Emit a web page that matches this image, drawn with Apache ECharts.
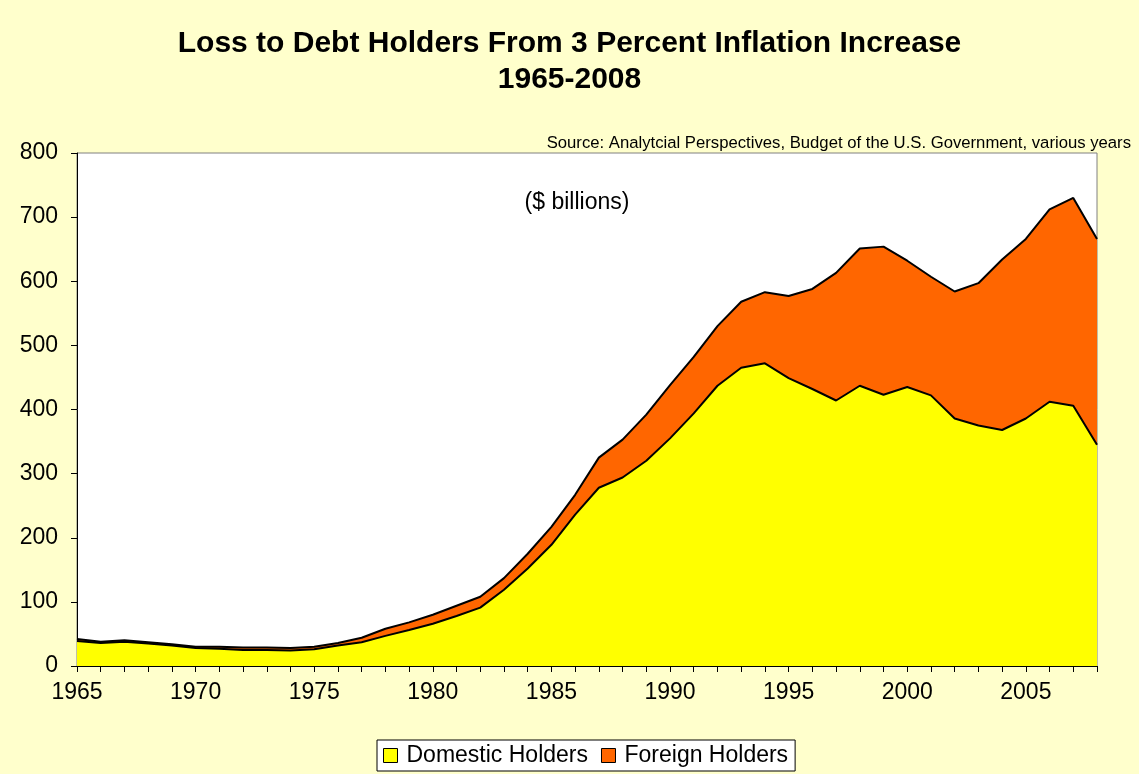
<!DOCTYPE html>
<html>
<head>
<meta charset="utf-8">
<script src="https://cdn.jsdelivr.net/npm/echarts@6/dist/echarts.min.js"></script>
<style>
html,body{margin:0;padding:0;background:#FFFFCC;}
#chart{width:1139px;height:774px;}
</style>
</head>
<body>
<div id="chart"></div>
<script>
const years = [];
for (let y = 1965; y <= 2008; y++) years.push(String(y));

const domestic = [39,36,38,35,32,28,27,25,25,24,26,32,37,47,56,66,78,91,119,152,189,236,278,294,320,355,394,437,465,472,449,432,414,437,423,435,422,386,375,368,386,412,406,345];
const foreign = [3,2,2,2,2,2,3,4,4,4,4,4,7,11,12,14,16,17,18,23,28,31,47,59,72,83,88,93,103,111,128,156,199,214,231,197,185,198,222,266,280,300,324,321];

const yTicks = [0,100,200,300,400,500,600,700,800];

const chart = echarts.init(document.getElementById('chart'));
const font = 'Arial, "Liberation Sans", sans-serif';
chart.setOption({
  backgroundColor: '#FFFFCC',
  animation: false,
  title: [
    {text: 'Loss to Debt Holders From 3 Percent Inflation Increase\n1965-2008', left: 'center', top: 21,
     textStyle: {fontFamily: font, fontSize: 30, fontWeight: 'bold', color: '#000', lineHeight: 36}},
    {text: 'Source: Analytcial Perspectives, Budget of the U.S. Government, various years', right: 3, top: 130,
     textStyle: {fontFamily: font, fontSize: 16.7, fontWeight: 'normal', color: '#000'}},
    {text: '($ billions)', left: 572, top: 186, textAlign: 'center',
     textStyle: {fontFamily: font, fontSize: 23, fontWeight: 'normal', color: '#000'}}
  ],
  legend: {
    bottom: 3, left: 377,
    data: ['Domestic Holders', 'Foreign Holders'],
    icon: 'rect', itemWidth: 14, itemHeight: 14, itemGap: 13,
    backgroundColor: '#fff', borderColor: '#000', borderWidth: 1,
    padding: [4, 7, 4, 6],
    itemStyle: {borderColor: '#000', borderWidth: 1},
    textStyle: {fontFamily: font, fontSize: 23, color: '#000', padding: [0,0,0,4]}
  },
  grid: {left: 77, right: 42, top: 153, bottom: 108, show: true, backgroundColor: '#fff', borderColor: '#808080', borderWidth: 1},
  xAxis: {
    type: 'category', data: years, boundaryGap: false,
    axisLine: {lineStyle: {color: '#000', width: 1}},
    axisTick: {interval: 0, length: 6, lineStyle: {color: '#000'}},
    axisLabel: {interval: 4, margin: 15, fontFamily: font, fontSize: 23, color: '#000'},
    splitLine: {show: false}
  },
  yAxis: {
    type: 'value', min: yTicks[0], max: yTicks[yTicks.length-1], interval: 100,
    axisLine: {show: true, lineStyle: {color: '#000', width: 1}},
    axisTick: {show: true, length: 6, lineStyle: {color: '#000'}},
    axisLabel: {margin: 19, fontFamily: font, fontSize: 23, color: '#000'},
    splitLine: {show: false}
  },
  series: [
    {name: 'Domestic Holders', type: 'line', stack: 'total', data: domestic, symbol: 'none',
     lineStyle: {color: '#000', width: 2}, areaStyle: {color: '#FFFF00', opacity: 1},
     itemStyle: {color: '#FFFF00', borderColor: '#000'}},
    {name: 'Foreign Holders', type: 'line', stack: 'total', data: foreign, symbol: 'none',
     lineStyle: {color: '#000', width: 2}, areaStyle: {color: '#FF6600', opacity: 1},
     itemStyle: {color: '#FF6600', borderColor: '#000'}}
  ]
});
</script>
</body>
</html>
